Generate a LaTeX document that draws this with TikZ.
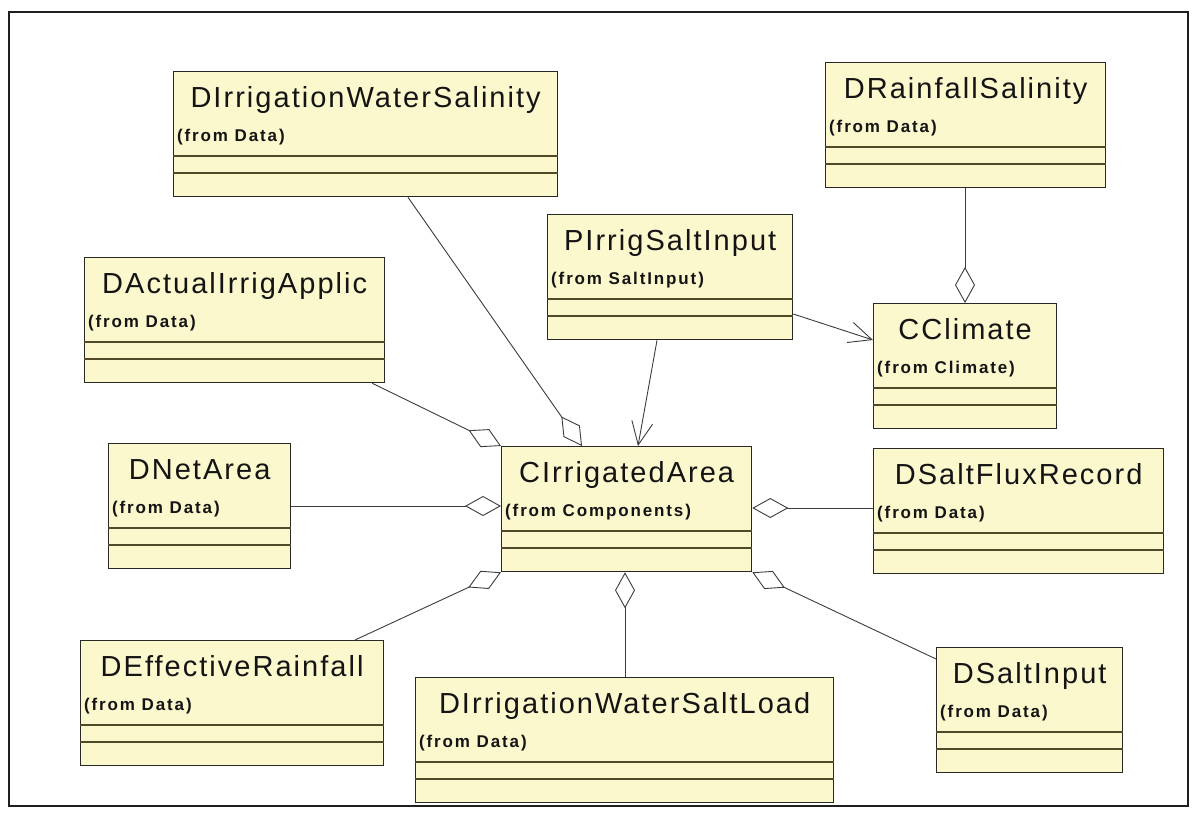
\documentclass[tikz,border=0pt]{standalone}
\usepackage{fontspec}
\setmainfont{Liberation Sans}
\newfontfamily\classnamefont[LetterSpace=7]{Liberation Sans}
\newfontfamily\packagefont[LetterSpace=11]{Liberation Sans}
\usetikzlibrary{arrows.meta,calc}

\definecolor{classfill}{RGB}{250,248,204}
\definecolor{boxline}{RGB}{40,40,36}
\definecolor{sepcolor}{RGB}{80,72,40}
\definecolor{linkcolor}{RGB}{60,60,60}

\tikzset{
  classbox/.style={draw=boxline, fill=classfill, line width=1.3pt,
    minimum height=125pt, inner sep=0pt, anchor=north west},
  classname/.style={anchor=base, inner sep=0pt, text=black!92,
    font=\classnamefont\fontsize{29}{31}\selectfont},
  classpkg/.style={anchor=base west, inner sep=0pt, text=black!92,
    font=\packagefont\bfseries\fontsize{17}{19}\selectfont},
  compline/.style={draw=sepcolor, line width=1.2pt},
  link/.style={draw=linkcolor, line width=0.9pt},
  aggregation/.style={link,
    -{Diamond[fill=white, length=36pt, width=20pt, line width=0.9pt]}},
  navigable/.style={link,
    -{Straight Barb[length=23pt, width=21pt, line width=0.9pt]}},
}

% UML class: name, x, y (top left), width, class name, package
\newcommand{\umlclass}[6]{%
  \node[classbox, minimum width=#4pt] (#1) at (#2,#3) {};
  \node[classname] (#1-name) at ($(#1.north)+(0,36)$) {#5};
  \node[classpkg] (#1-pkg) at ($(#1.north west)+(4,70)$) {(from #6)};
  \draw[compline] ($(#1.north west)+(0,85)$) -- ($(#1.north east)+(0,85)$);
  \draw[compline] ($(#1.north west)+(0,102)$) -- ($(#1.north east)+(0,102)$);
}

\begin{document}
\begin{tikzpicture}[x=1pt,y=-1pt]
  \useasboundingbox (0,0) rectangle (1192,814);
  \fill[white] (0,0) rectangle (1192,814);
  \draw[black!88, line width=2.2pt] (9,12) rectangle (1188,806);

  \umlclass{dws}{173}{71}{384}{DIrrigationWaterSalinity}{Data}
  \umlclass{drs}{825}{62}{280}{DRainfallSalinity}{Data}
  \umlclass{pisi}{547}{214}{245}{PIrrigSaltInput}{SaltInput}
  \umlclass{daia}{84}{257}{300}{DActualIrrigApplic}{Data}
  \umlclass{dna}{108}{443}{182}{DNetArea}{Data}
  \umlclass{cia}{501}{446}{250}{CIrrigatedArea}{Components}
  \umlclass{ccl}{873}{303}{183}{CClimate}{Climate}
  \umlclass{dsfr}{873}{448}{290}{DSaltFluxRecord}{Data}
  \umlclass{der}{80}{640}{303}{DEffectiveRainfall}{Data}
  \umlclass{diwsl}{415}{677}{418}{DIrrigationWaterSaltLoad}{Data}
  \umlclass{dsi}{936}{647}{186}{DSaltInput}{Data}

  % aggregations into the irrigated area
  \draw[aggregation] ($(dws.south west)+(235,0)$) -- ($(cia.north west)+(81,0)$);
  \draw[aggregation] ($(daia.south east)+(-13,0)$) -- (cia.north west);
  \draw[aggregation] ($(dna.north east)+(0,63)$) -- ($(cia.north west)+(0,60)$);
  \draw[aggregation] ($(der.north west)+(275,0)$) -- (cia.south west);
  \draw[aggregation] ($(diwsl.north west)+(210,0)$) -- ($(cia.south west)+(124,0)$);
  \draw[aggregation] ($(dsi.north west)+(0,12)$) -- (cia.south east);
  \draw[aggregation] ($(dsfr.north west)+(0,60)$) -- ($(cia.north east)+(0,62)$);
  \draw[aggregation] ($(drs.south west)+(140,0)$) -- ($(ccl.north west)+(92,0)$);

  % navigable associations of the salt input process
  \draw[navigable] ($(pisi.south west)+(110,0)$) -- ($(cia.north west)+(137,0)$);
  \draw[navigable] ($(pisi.north east)+(0,100)$) -- ($(ccl.north west)+(0,37)$);
\end{tikzpicture}
\end{document}
